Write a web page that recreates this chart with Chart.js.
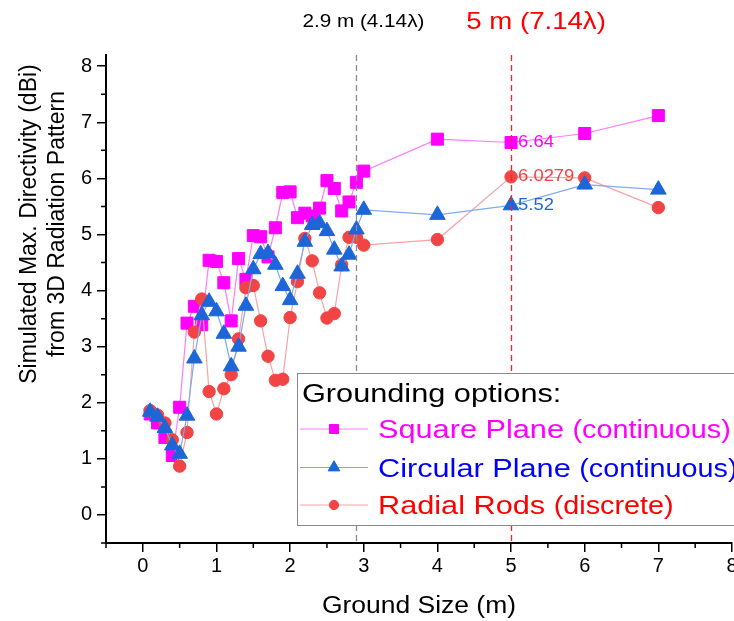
<!DOCTYPE html>
<html>
<head>
<meta charset="utf-8">
<script src="https://cdn.jsdelivr.net/npm/chart.js@4.4.0/dist/chart.umd.min.js"></script>
<style>
html, body { margin: 0; padding: 0; background: #fff; overflow: hidden; }
#wrap { width: 734px; height: 621px; overflow: hidden; }
</style>
</head>
<body>
<div id="wrap"><canvas id="chart" width="742" height="621"></canvas></div>
<script>
var FONT = "'Liberation Sans', Arial, sans-serif";
Chart.defaults.font.family = FONT;
Chart.defaults.color = '#000';

// data
var groundSize = [0.1, 0.2, 0.3, 0.4, 0.5, 0.6, 0.7, 0.8, 0.9, 1.0, 1.1, 1.2, 1.3, 1.4, 1.5, 1.6, 1.7, 1.8, 1.9, 2.0,
    2.1, 2.2, 2.3, 2.4, 2.5, 2.6, 2.7, 2.8, 2.9, 3.0, 4, 5, 6, 7];
var squarePlane = [1.80, 1.64, 1.38, 1.06, 1.92, 3.42, 3.72, 3.39, 4.54, 4.52, 4.14, 3.46, 4.57, 4.20, 4.98, 4.96, 4.60, 5.12, 5.75, 5.76,
    5.30, 5.38, 5.33, 5.47, 5.96, 5.82, 5.42, 5.58, 5.93, 6.13, 6.70, 6.64, 6.80, 7.12];
var circularPlane = [1.84, 1.75, 1.55, 1.24, 1.09, 1.77, 2.79, 3.56, 3.80, 3.63, 3.23, 2.65, 3.00, 3.73, 4.38, 4.65, 4.67, 4.46, 4.08, 3.83,
    4.30, 4.87, 5.17, 5.20, 5.06, 4.73, 4.43, 4.64, 5.09, 5.44, 5.35, 5.52, 5.89, 5.80];
var radialRods = [1.86, 1.78, 1.64, 1.34, 0.87, 1.47, 3.26, 3.85, 2.20, 1.80, 2.25, 2.50, 3.14, 4.05, 4.09, 3.46, 2.83, 2.40, 2.42, 3.52,
    4.16, 4.93, 4.53, 3.96, 3.51, 3.59, 4.46, 4.95, 4.95, 4.81, 4.91, 6.0279, 6.01, 5.48];

var xTickValues = [0, 1, 2, 3, 4, 5, 6, 7, 8];
var yTickValues = [0, 1, 2, 3, 4, 5, 6, 7, 8];
var refSizes = [2.9, 5];
var refLabels = ['2.9 m (4.14\u03bb)', '5 m (7.14\u03bb)'];
var labelledSize = 5;

var seriesNames = ['Square Plane', 'Circular Plane', 'Radial Rods'];
var seriesNotes = ['(continuous)', '(continuous)', '(discrete)'];
var legendTitle = 'Grounding options:';
var xTitle = 'Ground Size (m)';
var yTitle = ['Simulated Max. Directivity (dBi)', 'from 3D Radiation Pattern'];

var markerFill = ['#ff00ff', '#1c66d8', '#f24444'];
var lineColor = ['#ff7aff', '#7eaaf0', '#f7a3a3'];
var textColor = ['#ff00ff', '#0000ff', '#ff0000'];
var pointStyles = ['rect', 'triangle', 'circle'];
var pointSizes = [8.5, 9, 6.2];

function points(values) {
    return groundSize.map(function (g, i) { return { x: g, y: values[i] }; });
}

function drawLabel(ctx, text, x, y, o) {
    ctx.save();
    ctx.translate(x, y);
    if (o.rotate) ctx.rotate(o.rotate);
    ctx.scale(o.sx || 1, 1);
    ctx.font = o.size + 'px ' + FONT;
    ctx.fillStyle = o.color || '#000';
    ctx.textAlign = o.align || 'left';
    ctx.textBaseline = o.baseline || 'middle';
    ctx.fillText(text, 0, 0);
    var w = ctx.measureText(text).width * (o.sx || 1);
    ctx.restore();
    return w;
}

var extras = {
    id: 'extras',
    afterDatasetsDraw: function (chart) {
        var ctx = chart.ctx, xs = chart.scales.x, ys = chart.scales.y, area = chart.chartArea;
        var dashColors = ['#8c8c8c', '#ff2020'];
        var labelShift = [7, 25];
        var labelSize = [18, 24];
        ctx.save();
        ctx.lineWidth = 1.3;
        ctx.setLineDash([6, 4]);
        refSizes.forEach(function (v, i) {
            var px = Math.round(xs.getPixelForValue(v)) + 0.5;
            ctx.strokeStyle = dashColors[i];
            ctx.beginPath();
            ctx.moveTo(px, area.top);
            ctx.lineTo(px, area.bottom);
            ctx.stroke();
        });
        ctx.restore();
        refSizes.forEach(function (v, i) {
            drawLabel(ctx, refLabels[i], xs.getPixelForValue(v) + labelShift[i], 22,
                { size: labelSize[i], sx: 1.15, align: 'center', color: i ? '#ff0000' : '#000' });
        });
        // value labels at the 5 m point
        var idx = groundSize.indexOf(labelledSize);
        [squarePlane, circularPlane, radialRods].forEach(function (vals, i) {
            drawLabel(ctx, String(vals[idx]), xs.getPixelForValue(labelledSize) + 7, ys.getPixelForValue(vals[idx]),
                { size: 16, sx: 1.15, color: markerFill[i] });
        });
    },
    afterDraw: function (chart) {
        var ctx = chart.ctx, xs = chart.scales.x, ys = chart.scales.y, area = chart.chartArea;
        // minor ticks
        ctx.save();
        ctx.strokeStyle = '#000';
        ctx.lineWidth = 1.5;
        ctx.beginPath();
        for (var v = -0.5; v < 8; v += 1) {
            var px = xs.getPixelForValue(v);
            ctx.moveTo(px, area.bottom);
            ctx.lineTo(px, area.bottom + 5);
            var py = ys.getPixelForValue(v);
            ctx.moveTo(area.left, py);
            ctx.lineTo(area.left - 5, py);
        }
        ctx.stroke();
        ctx.restore();

        // axis titles
        drawLabel(ctx, xTitle, (area.left + area.right) / 2, 607, { size: 23, sx: 1.15, align: 'center' });
        drawLabel(ctx, yTitle[0], 30, 224, { size: 23, rotate: -Math.PI / 2, align: 'center' });
        drawLabel(ctx, yTitle[1], 58, 224, { size: 23, rotate: -Math.PI / 2, align: 'center' });

        // legend
        ctx.save();
        ctx.fillStyle = '#fff';
        ctx.fillRect(297, 373, 460, 152);
        ctx.strokeStyle = '#8a8a8a';
        ctx.lineWidth = 1;
        ctx.strokeRect(297.5, 373.5, 460, 152);
        ctx.restore();
        drawLabel(ctx, legendTitle, 302, 402, { size: 26.7, sx: 1.15, baseline: 'alphabetic' });
        var rowY = [429, 467.5, 505];
        seriesNames.forEach(function (name, i) {
            var y = rowY[i];
            ctx.save();
            ctx.strokeStyle = lineColor[i];
            ctx.lineWidth = 1;
            ctx.beginPath();
            ctx.moveTo(300, y);
            ctx.lineTo(368, y);
            ctx.stroke();
            ctx.fillStyle = markerFill[i];
            ctx.strokeStyle = markerFill[i];
            Chart.helpers.drawPoint(ctx, { pointStyle: pointStyles[i], rotation: 0, radius: pointSizes[i] * 0.75, borderWidth: 1 }, 334, y);
            ctx.restore();
            var w = drawLabel(ctx, name + ' ', 378, y + 9, { size: 26.7, sx: 1.15, baseline: 'alphabetic', color: textColor[i] });
            drawLabel(ctx, seriesNotes[i], 378 + w, y + 9, { size: 25, sx: 1.15, baseline: 'alphabetic', color: textColor[i] });
        });
    }
};

function series(label, values, i, order) {
    return {
        label: label,
        data: points(values),
        order: order,
        borderColor: lineColor[i],
        borderWidth: 1.2,
        pointStyle: pointStyles[i],
        pointRadius: pointSizes[i],
        pointBackgroundColor: markerFill[i],
        pointBorderColor: markerFill[i],
        pointBorderWidth: 1,
        tension: 0
    };
}

new Chart(document.getElementById('chart').getContext('2d'), {
    type: 'line',
    data: {
        datasets: [
            series(seriesNames[0], squarePlane, 0, 3),
            series(seriesNames[1], circularPlane, 1, 1),
            series(seriesNames[2], radialRods, 2, 2)
        ]
    },
    options: {
        responsive: false,
        animation: false,
        layout: { padding: { top: 55, right: 0, bottom: 0, left: 0 } },
        plugins: { legend: { display: false }, tooltip: { enabled: false } },
        scales: {
            x: {
                type: 'linear', min: -0.5, max: 8,
                afterBuildTicks: function (s) { s.ticks = xTickValues.map(function (v) { return { value: v }; }); },
                afterFit: function (s) { s.height = 78; s.paddingLeft = 0; s.paddingRight = 0; },
                grid: { drawOnChartArea: false, color: '#000', lineWidth: 1.5, tickLength: 9 },
                border: { color: '#000', width: 2 },
                ticks: { font: { size: 20 }, color: '#000', padding: 2, maxRotation: 0, autoSkip: false }
            },
            y: {
                type: 'linear', min: -0.5, max: 8.2,
                afterBuildTicks: function (s) { s.ticks = yTickValues.map(function (v) { return { value: v }; }); },
                afterFit: function (s) { s.width = 106; s.paddingTop = 0; s.paddingBottom = 0; },
                grid: { drawOnChartArea: false, color: '#000', lineWidth: 1.5, tickLength: 9 },
                border: { color: '#000', width: 2 },
                ticks: { font: { size: 20 }, color: '#000', padding: 5, autoSkip: false }
            }
        }
    },
    plugins: [extras]
});
</script>
</body>
</html>
